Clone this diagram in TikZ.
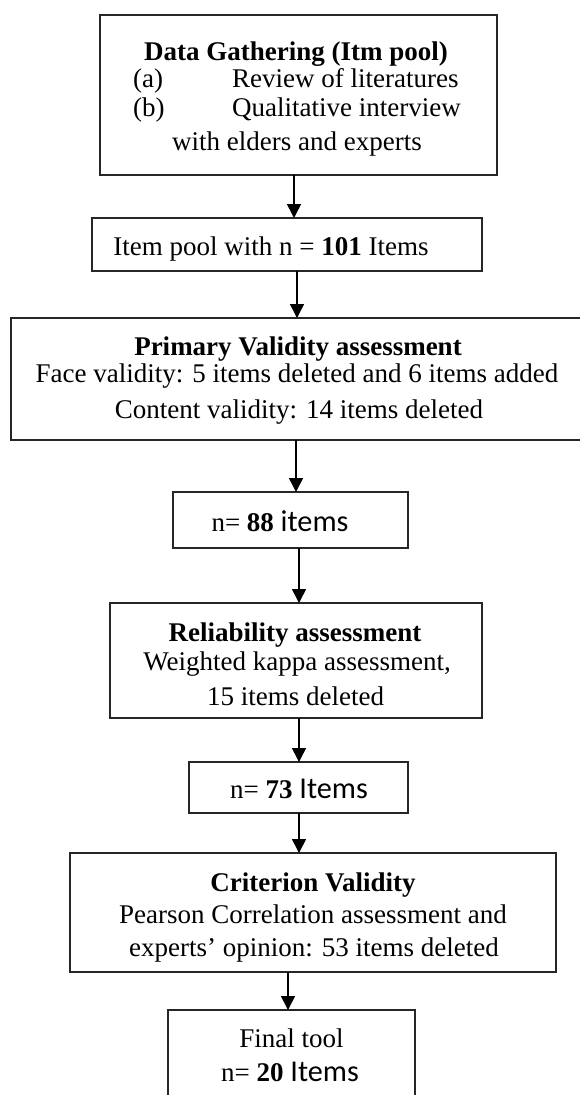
\documentclass[tikz,border=0pt]{standalone}
\usepackage{fontspec}
\setmainfont{Liberation Serif}
\newfontfamily\calfont[Scale=1.12]{Carlito}
\usetikzlibrary{arrows.meta}
\begin{document}
\begin{tikzpicture}[x=1pt,y=-1pt,
  box/.style={draw=black!85, line width=1.8pt, inner sep=0pt, outer sep=0pt},
  txt/.style={anchor=base, inner sep=0pt, font=\fontsize{27}{30}\selectfont},
  txtw/.style={anchor=base west, inner sep=0pt, font=\fontsize{27}{30}\selectfont},
  arr/.style={line width=1.6pt, -{Triangle[length=14pt,width=14pt]}}]
\useasboundingbox (0,0) rectangle (579,1095);
\fill[white] (0,0) rectangle (579,1095);
% boxes
\node[box, minimum width=397pt, minimum height=160pt] (b1) at (298.5,95) {};
\node[box, minimum width=390pt, minimum height=53pt] (b2) at (287,244.5) {};
\node[box, minimum width=574pt, minimum height=122pt] (b3) at (298,379) {};
\node[box, minimum width=235pt, minimum height=56pt] (b4) at (290.5,520) {};
\node[box, minimum width=372pt, minimum height=115pt] (b5) at (296,660.5) {};
\node[box, minimum width=219pt, minimum height=51pt] (b6) at (298.5,787.5) {};
\node[box, minimum width=486pt, minimum height=119pt] (b7) at (313,912.5) {};
\node[box, minimum width=247pt, minimum height=100pt] (b8) at (291.5,1060) {};
% texts
\node[txt] (t1a) at (296,60) {\textbf{Data Gathering (Itm pool)}};
\node[txtw] (t1b) at (133,87) {(a)};
\node[txtw] (t1c) at (232,87) {Review of literatures};
\node[txtw] (t1d) at (133,116) {(b)};
\node[txtw] (t1e) at (232,116) {Qualitative interview};
\node[txt] (t1f) at (297,150) {with elders and experts};
\node[txt] (t2) at (271,255) {Item pool with n = \textbf{101} Items};
\node[txt] (t3a) at (298,355) {\textbf{Primary Validity assessment}};
\node[txt] (t3b) at (297,382) {Face validity: 5 items deleted and 6 items added};
\node[txt] (t3c) at (299,418) {Content validity: 14 items deleted};
\node[txt] (t4) at (280,531) {n= \textbf{88} {\calfont items}};
\node[txt] (t5a) at (295,641) {\textbf{Reliability assessment}};
\node[txt] (t5b) at (297,670) {Weighted kappa assessment,};
\node[txt] (t5c) at (295.5,705) {15 items deleted};
\node[txt] (t6) at (299,798) {n= \textbf{73} {\calfont Items}};
\node[txt] (t7a) at (313,891) {\textbf{Criterion Validity}};
\node[txt] (t7b) at (313,923) {Pearson Correlation assessment and};
\node[txt] (t7c) at (314,956) {experts’ opinion: 53 items deleted};
\node[txt] (t8a) at (291.5,1047) {Final tool};
\node[txt] (t8b) at (290,1081) {n= \textbf{20} {\calfont Items}};
% arrow columns
\coordinate (c1) at (294,0);
\coordinate (c2) at (297,0);
\coordinate (c3) at (296,0);
\coordinate (c4) at (299,0);
\coordinate (c5) at (299,0);
\coordinate (c6) at (299,0);
\coordinate (c7) at (288,0);
\draw[arr] (b1.south -| c1) -- (b2.north -| c1);
\draw[arr] (b2.south -| c2) -- (b3.north -| c2);
\draw[arr] (b3.south -| c3) -- (b4.north -| c3);
\draw[arr] (b4.south -| c4) -- (b5.north -| c4);
\draw[arr] (b5.south -| c5) -- (b6.north -| c5);
\draw[arr] (b6.south -| c6) -- (b7.north -| c6);
\draw[arr] (b7.south -| c7) -- (b8.north -| c7);
\end{tikzpicture}
\end{document}
